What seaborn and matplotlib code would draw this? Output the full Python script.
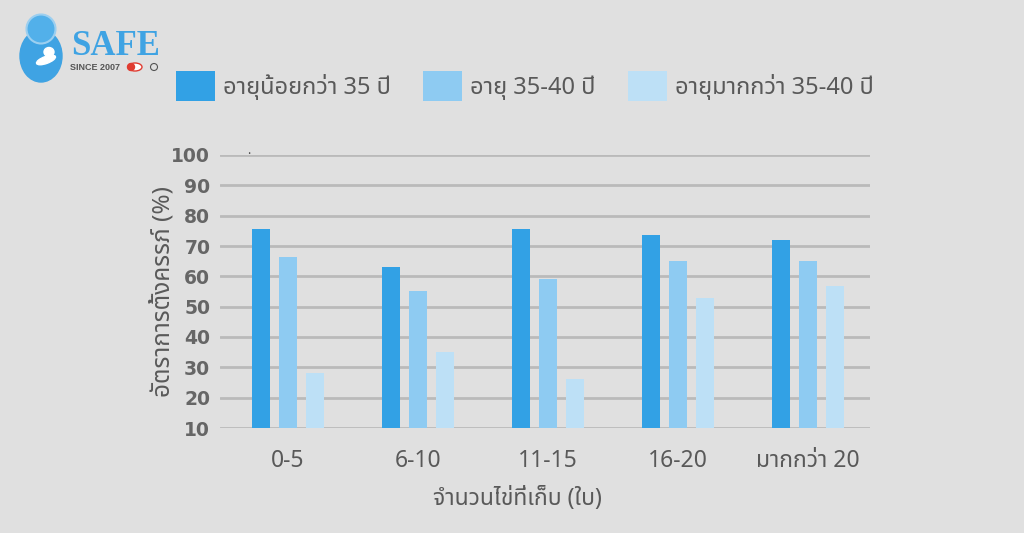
import pandas as pd
import numpy as np
import matplotlib.pyplot as plt
import seaborn as sns
from matplotlib.patches import Patch, Circle, Ellipse

groups = ['0-5', '6-10', '11-15', '16-20', 'มากกว่า 20']
age_labels = ['อายุน้อยกว่า 35 ปี', 'อายุ 35-40 ปี', 'อายุมากกว่า 35-40 ปี']
young = [75.7, 63.0, 75.7, 73.6, 71.9]
middle = [66.3, 55.3, 59.0, 65.0, 65.0]
older = [28.1, 35.1, 26.2, 53.0, 56.7]
yticks = [10, 20, 30, 40, 50, 60, 70, 80, 90, 100]
colors = ['#32a1e5', '#8ecbf2', '#bde0f6']

df = pd.DataFrame({
    'group': groups * 3,
    'age': [age_labels[0]] * 5 + [age_labels[1]] * 5 + [age_labels[2]] * 5,
    'rate': young + middle + older,
})

bg = '#e0e0e0'
txt = '#595959'
sns.set_style('white')
THAI = ['Noto Sans Thai', 'DejaVu Sans']
plt.rcParams['font.family'] = THAI

fig = plt.figure(figsize=(10.24, 5.33), dpi=100, facecolor=bg)
ax = fig.add_axes([220 / 1024, 1 - 428 / 533, 650 / 1024, 273 / 533])
ax.set_facecolor(bg)

sns.barplot(data=df, x='group', y='rate', hue='age', hue_order=age_labels,
            palette=colors, width=0.62, gap=0.32, saturation=1,
            linewidth=0, edgecolor='none', legend=False, ax=ax, zorder=3)

ax.set_xlim(-0.523, 4.477)
ax.set_ylim(10, 100)
ax.set_yticks(yticks)
ax.yaxis.grid(True, color='#bababa', linewidth=2, zorder=0)
ax.xaxis.grid(False)
ax.set_axisbelow(True)
for s in ax.spines.values():
    s.set_visible(False)
ax.tick_params(axis='both', length=0)
ax.tick_params(axis='y', pad=7)
ax.tick_params(axis='x', pad=15)

for lab in ax.get_yticklabels():
    lab.set_fontfamily('DejaVu Sans')
    lab.set_fontsize(13.5)
    lab.set_color('#666666')
    lab.set_fontweight('bold')
for lab in ax.get_xticklabels():
    lab.set_fontsize(16.5)
    lab.set_color(txt)
    lab.set_fontweight('semibold')

ax.set_xlabel('จำนวนไข่ที่เก็บ (ใบ)', fontsize=16.5, color=txt,
              fontweight='semibold')
ax.xaxis.set_label_coords(0.458, -0.216)
ax.set_ylabel('อัตราการตั้งครรภ์ (%)', fontsize=17.5, color=txt,
              fontweight='semibold')
ax.yaxis.set_label_coords(-0.069, 0.5)

# stray mark just above the top gridline
ax.text(-0.3, 100.2, '.', fontsize=9, color='#444444', fontweight='bold',
        ha='center', va='baseline', clip_on=False)

# one legend entry per block, so each square sits where it does in the original
legend_x = [176, 423, 628]
for c, l, lx in zip(colors, age_labels, legend_x):
    leg = fig.legend(handles=[Patch(facecolor=c, edgecolor='none', label=l)],
                     loc='center left',
                     bbox_to_anchor=(lx / 1024, 1 - 86 / 533),
                     frameon=False, borderpad=0, borderaxespad=0,
                     handlelength=1.65, handleheight=1.56, handletextpad=0.35,
                     prop={'family': THAI, 'size': 17, 'weight': 'semibold'})
    for t in leg.get_texts():
        t.set_color(txt)

# SAFE logo, drawn in pixel coordinates
logo = fig.add_axes([0, 1 - 90 / 533, 180 / 1024, 90 / 533])
logo.set_xlim(0, 180)
logo.set_ylim(90, 0)
logo.axis('off')
logo.add_patch(Ellipse((41, 56), 42, 52, color='#3fa3e3'))
logo.add_patch(Circle((41, 29), 14.5, color='#52b0ea', ec='#9ccff0', lw=1.5))
logo.add_patch(Ellipse((49, 52), 10, 9, color='white'))
logo.add_patch(Ellipse((46, 60), 20, 7, angle=-20, color='white'))
logo.text(71, 55, 'SAFE', family='Liberation Serif', fontsize=25,
          fontweight='bold', color='#3fa3e3', va='baseline')
logo.text(70, 70, 'SINCE 2007', family='Liberation Sans', fontsize=6.5,
          fontweight='bold', color='#555555', va='baseline')
logo.add_patch(Ellipse((135, 67), 14, 8, fc='white', ec='#e03c31', lw=1))
logo.add_patch(Circle((131, 67), 3.5, color='#e03c31'))
logo.add_patch(Circle((154, 67), 3.5, fc='none', ec='#555555', lw=0.8))

fig.savefig('out.png', dpi=100, facecolor=bg)
